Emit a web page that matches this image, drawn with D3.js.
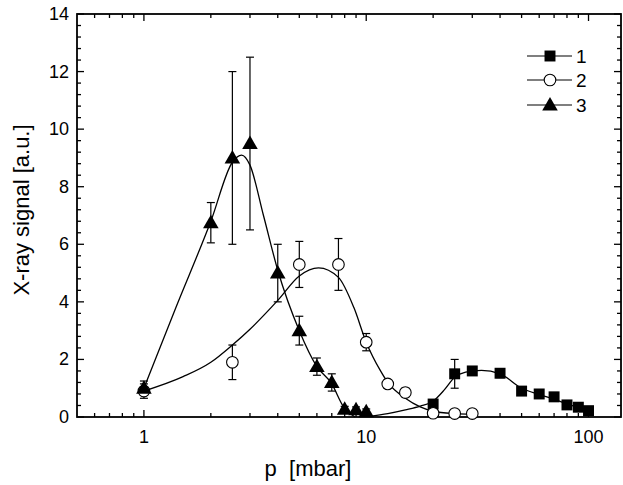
<!DOCTYPE html>
<html>
<head>
<meta charset="utf-8">
<script src="https://cdn.jsdelivr.net/npm/d3@7"></script>
<style>
  html, body { margin: 0; padding: 0; background: #fff; }
  svg text { font-family: "Liberation Sans", Arial, sans-serif; fill: #000; }
</style>
</head>
<body>
<div id="chart"></div>
<script>
// ---------- Data ----------
// series 1: squares
const p1   = [20, 25, 30, 40, 50, 60, 70, 80, 90, 100];
const sig1 = [0.45, 1.5, 1.6, 1.52, 0.9, 0.8, 0.7, 0.42, 0.34, 0.22];
const err1 = [0.1, 0.5, 0.15, 0.15, 0.1, 0.1, 0.15, 0.1, 0.1, 0.1];

// series 2: open circles
const p2   = [1, 2.5, 5, 7.5, 10, 12.5, 15, 20, 25, 30];
const sig2 = [0.9, 1.9, 5.3, 5.3, 2.6, 1.15, 0.85, 0.13, 0.12, 0.12];
const err2 = [0.25, 0.6, 0.8, 0.9, 0.3, 0.15, 0.15, 0.1, 0.08, 0.08];

// series 3: triangles
const p3   = [1, 2, 2.5, 3, 4, 5, 6, 7, 8, 9, 10];
const sig3 = [1.0, 6.75, 9.0, 9.5, 5.0, 3.0, 1.75, 1.2, 0.27, 0.25, 0.18];
const err3 = [0.25, 0.7, 3.0, 3.0, 1.0, 0.5, 0.3, 0.3, 0.1, 0.1, 0.1];

// fitted curves, points
const fit1P = [10.3, 12.5, 15, 17.5, 20, 22.5, 25, 28, 33, 40, 50, 60, 70, 80, 90, 100];
const fit1Y = [0.02, 0.12, 0.25, 0.38, 0.55, 0.95, 1.38, 1.56, 1.62, 1.5, 1.0, 0.78, 0.62, 0.45, 0.34, 0.24];

const fit2P = [1, 1.5, 2, 2.5, 3, 4, 5, 6.1, 7.5, 8.8, 10, 11.6, 12.5, 15, 17.5, 20, 25, 30];
const fit2Y = [0.9, 1.4, 1.9, 2.5, 3.05, 4.05, 4.9, 5.18, 4.85, 3.8, 2.6, 1.6, 1.2, 0.65, 0.35, 0.2, 0.12, 0.1];

const fit3P = [1, 1.4, 2, 2.5, 2.75, 3, 3.45, 4, 5, 6, 7, 7.9, 8.9];
const fit3Y = [1.0, 3.85, 6.8, 8.85, 9.1, 8.75, 7.0, 5.1, 3.0, 1.75, 1.15, 0.36, 0.0];

const yTicks = [0, 2, 4, 6, 8, 10, 12, 14];
const xTickLabels = [1, 10, 100];
const legendNames = ["1", "2", "3"];

// ---------- Layout ----------
const width = 623, height = 485;
const margin = { left: 77, right: 2, top: 14, bottom: 68 };

const svg = d3.select("#chart").append("svg")
    .attr("width", width)
    .attr("height", height);

const x = d3.scaleLog().domain([0.5, 140]).range([margin.left, width - margin.right]);
const y = d3.scaleLinear().domain([0, 14]).range([height - margin.bottom, margin.top]);

const x0 = x.range()[0], x1 = x.range()[1];
const y0 = y.range()[0], y1 = y.range()[1];

// ---------- Ticks ----------
const xMinor = [];
[0.1, 1, 10, 100].forEach(d => {
    for (let k = 1; k <= 9; k++) {
        const v = d * k;
        if (v > 0.5 && v < 140) xMinor.push(v);
    }
});
const yMinor = d3.range(0, 14.01, 0.4).filter(v => yTicks.indexOf(Math.round(v * 10) / 10) < 0);

const tickG = svg.append("g").attr("stroke", "#000").attr("stroke-width", 1.3);

xMinor.forEach(v => {
    const major = xTickLabels.indexOf(v) >= 0;
    const len = major ? 7 : 4;
    tickG.append("line").attr("x1", x(v)).attr("x2", x(v)).attr("y1", y0).attr("y2", y0 - len);
    tickG.append("line").attr("x1", x(v)).attr("x2", x(v)).attr("y1", y1).attr("y2", y1 + len);
});

yTicks.concat(yMinor).forEach(v => {
    const major = yTicks.indexOf(v) >= 0;
    const len = major ? 7 : 4;
    tickG.append("line").attr("x1", x0).attr("x2", x0 + len).attr("y1", y(v)).attr("y2", y(v));
    tickG.append("line").attr("x1", x1).attr("x2", x1 - len).attr("y1", y(v)).attr("y2", y(v));
});

// frame
svg.append("rect")
    .attr("x", x0).attr("y", y1)
    .attr("width", x1 - x0).attr("height", y0 - y1)
    .attr("fill", "none").attr("stroke", "#000").attr("stroke-width", 1.8);

// tick labels
svg.append("g").selectAll("text").data(yTicks).join("text")
    .attr("x", x0 - 8).attr("y", d => y(d) + 6)
    .attr("text-anchor", "end")
    .attr("font-size", 18)
    .text(d => d);

svg.append("g").selectAll("text").data(xTickLabels).join("text")
    .attr("x", d => x(d)).attr("y", y0 + 26)
    .attr("text-anchor", "middle")
    .attr("font-size", 18)
    .text(d => d);

// axis titles
svg.append("text")
    .attr("x", 308).attr("y", 476)
    .attr("text-anchor", "middle")
    .attr("font-size", 22)
    .style("white-space", "pre")
    .text("p  [mbar]");

svg.append("text")
    .attr("transform", "translate(29,210) rotate(-90)")
    .attr("text-anchor", "middle")
    .attr("font-size", 22)
    .text("X-ray signal [a.u.]");

// ---------- Fit curves ----------
const line = d3.line()
    .x(d => x(d[0]))
    .y(d => y(d[1]))
    .curve(d3.curveMonotoneX);

[[fit1P, fit1Y], [fit2P, fit2Y], [fit3P, fit3Y]].forEach(([ps, vs]) => {
    svg.append("path")
        .datum(ps.map((p, i) => [p, vs[i]]))
        .attr("d", line)
        .attr("fill", "none")
        .attr("stroke", "#000")
        .attr("stroke-width", 1.3);
});

// ---------- Error bars ----------
function errorBars(ps, vs, es) {
    const g = svg.append("g").attr("stroke", "#000").attr("stroke-width", 1.2);
    ps.forEach((p, i) => {
        const cx = x(p);
        const top = y(vs[i] + es[i]), bot = y(Math.max(0, vs[i] - es[i]));
        g.append("line").attr("x1", cx).attr("x2", cx).attr("y1", top).attr("y2", bot);
        g.append("line").attr("x1", cx - 4).attr("x2", cx + 4).attr("y1", top).attr("y2", top);
        g.append("line").attr("x1", cx - 4).attr("x2", cx + 4).attr("y1", bot).attr("y2", bot);
    });
}
errorBars(p1, sig1, err1);
errorBars(p2, sig2, err2);
errorBars(p3, sig3, err3);

// ---------- Markers ----------
const sq = d3.symbol().type(d3.symbolSquare).size(120);
const tri = d3.symbol().type(d3.symbolTriangle).size(105);

svg.append("g").selectAll("path").data(p1.map((p, i) => [p, sig1[i]])).join("path")
    .attr("d", sq)
    .attr("transform", d => `translate(${x(d[0])},${y(d[1])})`)
    .attr("fill", "#000");

svg.append("g").selectAll("circle").data(p2.map((p, i) => [p, sig2[i]])).join("circle")
    .attr("cx", d => x(d[0])).attr("cy", d => y(d[1]))
    .attr("r", 5.8)
    .attr("fill", "#fff").attr("stroke", "#000").attr("stroke-width", 1.1);

svg.append("g").selectAll("path").data(p3.map((p, i) => [p, sig3[i]])).join("path")
    .attr("d", tri)
    .attr("transform", d => `translate(${x(d[0])},${y(d[1]) + 1})`)
    .attr("fill", "#000");

// ---------- Legend ----------
const legend = svg.append("g");
const legendY = [56, 80, 105];
legendNames.forEach((name, i) => {
    const ly = legendY[i];
    legend.append("line").attr("x1", 527).attr("x2", 572).attr("y1", ly).attr("y2", ly)
        .attr("stroke", "#000").attr("stroke-width", 1.2);
    if (i === 0) {
        legend.append("path").attr("d", sq).attr("transform", `translate(550,${ly})`).attr("fill", "#000");
    } else if (i === 1) {
        legend.append("circle").attr("cx", 550).attr("cy", ly).attr("r", 5.8)
            .attr("fill", "#fff").attr("stroke", "#000").attr("stroke-width", 1.1);
    } else {
        legend.append("path").attr("d", tri).attr("transform", `translate(550,${ly + 1})`).attr("fill", "#000");
    }
    legend.append("text").attr("x", 576).attr("y", ly + 7)
        .attr("font-size", 19).text(name);
});
</script>
</body>
</html>
